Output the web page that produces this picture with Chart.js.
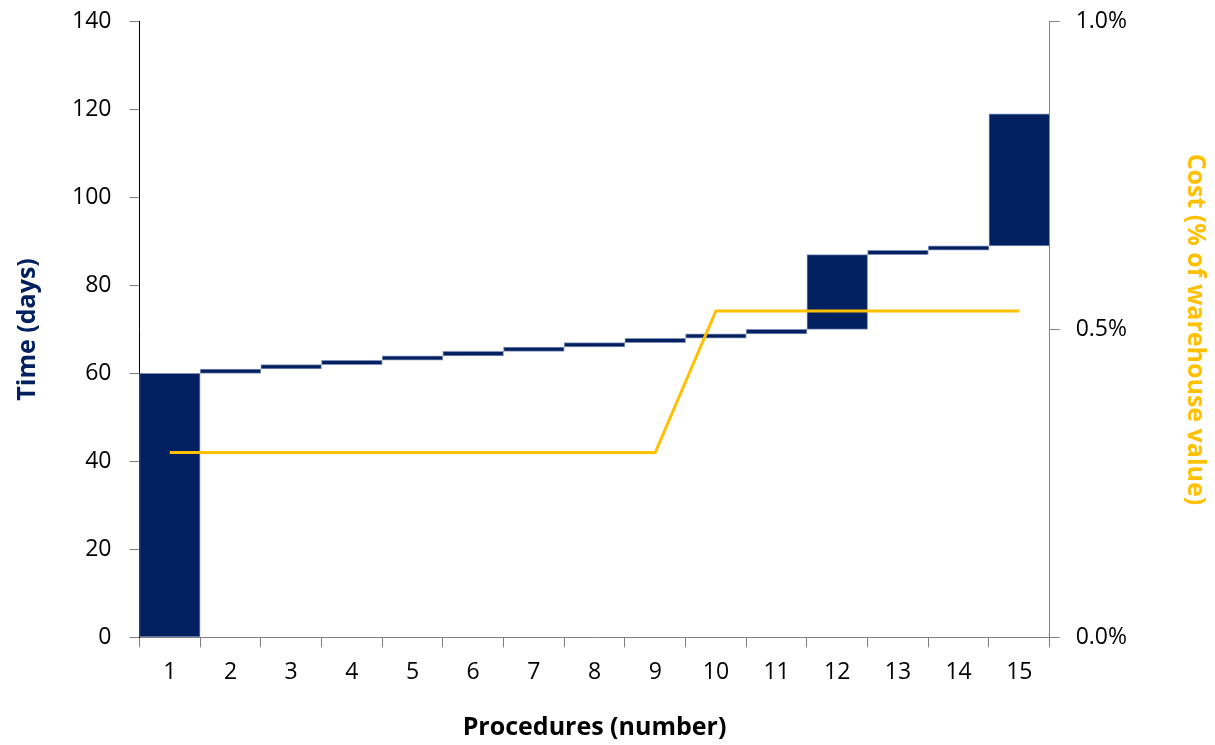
<!DOCTYPE html>
<html>
<head>
<meta charset="utf-8">
<script src="https://cdn.jsdelivr.net/npm/chart.js@4"></script>
<style>
  body { margin: 0; background: #fff; }
  #wrap { width: 1215px; height: 745px; }
</style>
</head>
<body>
<div id="wrap"><canvas id="myChart" width="1215" height="745"></canvas></div>
<script>
// procedures on the x axis
const procedures = ["1", "2", "3", "4", "5", "6", "7", "8", "9", "10", "11", "12", "13", "14", "15"];
// waterfall: start and end day of each procedure
const timeStart = [0, 60, 61, 62, 63, 64, 65, 66, 67, 68, 69, 70, 87, 88, 89];
const timeEnd = [60, 61, 62, 63, 64, 65, 66, 67, 68, 69, 70, 87, 88, 89, 119];
// cumulative cost, share of warehouse value
const costShare = [0.003, 0.003, 0.003, 0.003, 0.003, 0.003, 0.003, 0.003, 0.003, 0.0053, 0.0053, 0.0053, 0.0053, 0.0053, 0.0053];

const navy = "#002060";
const gold = "#FFC000";
const fontFamily = "'Open Sans', 'DejaVu Sans', sans-serif";

const ctx = document.getElementById('myChart');

new Chart(ctx, {
    type: "bar",
    data: {
        labels: procedures,
        datasets: [{
            type: "line",
            data: costShare,
            yAxisID: "y1",
            borderColor: gold,
            borderWidth: 3,
            pointRadius: 0,
            tension: 0,
            order: 0
        }, {
            data: timeStart.map((s, i) => [s, timeEnd[i]]),
            backgroundColor: navy,
            borderColor: "#8090b8",
            borderWidth: 1,
            borderSkipped: false,
            barPercentage: 1,
            categoryPercentage: 1,
            yAxisID: "y",
            order: 1
        }]
    },
    options: {
        responsive: false,
        animation: false,
        layout: { padding: { left: 13, right: 3, top: 0, bottom: 2 } },
        plugins: {
            legend: { display: false },
            tooltip: { enabled: false }
        },
        scales: {
            x: {
                offset: true,
                grid: {
                    offset: true,
                    drawOnChartArea: false,
                    drawTicks: true,
                    tickLength: 10,
                    color: "#808080"
                },
                border: { color: "#808080", width: 1 },
                ticks: {
                    color: "#000",
                    font: { family: fontFamily, size: 23 },
                    padding: 11,
                    maxRotation: 0
                },
                title: {
                    display: true,
                    text: "Procedures (number)",
                    color: "#000",
                    font: { family: fontFamily, size: 25, weight: "bold" },
                    padding: { top: 16, bottom: 0 }
                }
            },
            y: {
                position: "left",
                min: 0,
                max: 140,
                ticks: {
                    stepSize: 20,
                    color: "#000",
                    // small lineHeight so the top label does not push the plot down
                    font: { family: fontFamily, size: 23, lineHeight: 0.3 },
                    padding: 18
                },
                grid: {
                    drawOnChartArea: false,
                    tickLength: 10,
                    color: "#808080"
                },
                border: { color: "#000", width: 1 },
                title: {
                    display: true,
                    text: "Time (days)",
                    color: navy,
                    font: { family: fontFamily, size: 25, weight: "bold" },
                    padding: { top: 0, bottom: 11 }
                }
            },
            y1: {
                position: "right",
                min: 0,
                max: 0.01,
                ticks: {
                    stepSize: 0.005,
                    color: "#000",
                    font: { family: fontFamily, size: 23, lineHeight: 0.3 },
                    padding: 16,
                    callback: v => (v * 100).toFixed(1) + "%"
                },
                grid: {
                    drawOnChartArea: false,
                    tickLength: 10,
                    color: "#808080"
                },
                border: { color: "#808080", width: 1 },
                title: {
                    display: true,
                    text: "Cost (% of warehouse value)",
                    color: gold,
                    font: { family: fontFamily, size: 25, weight: "bold" },
                    padding: { top: 2, bottom: 37 }
                }
            }
        }
    }
});
</script>
</body>
</html>
